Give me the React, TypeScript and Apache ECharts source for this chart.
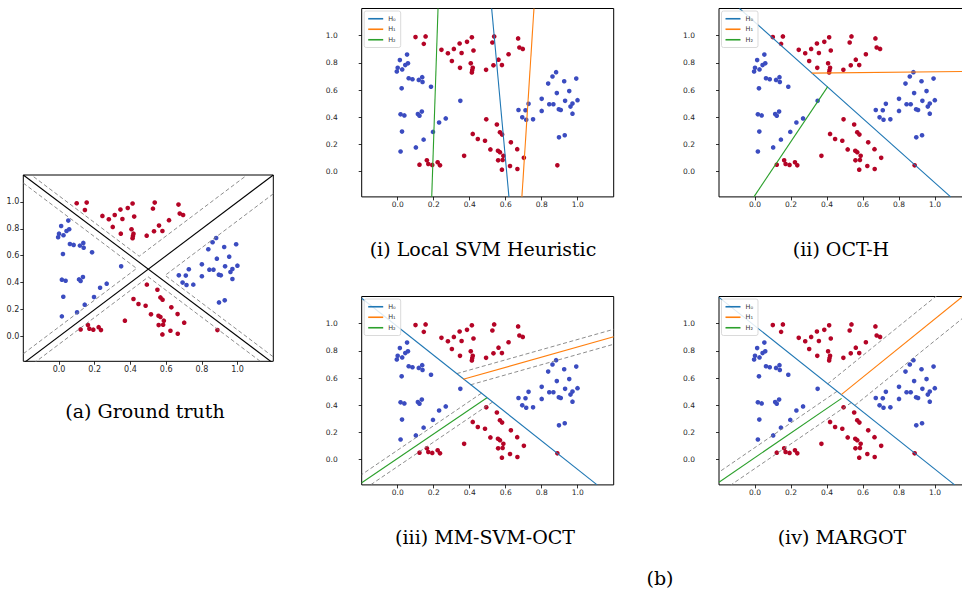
import React, { useEffect, useRef } from "react";
import * as echarts from "echarts";

// ---------------- data ----------------
const redPoints: [number, number][] = [
  [0.099, 0.990], [0.155, 0.995], [0.145, 0.940], [0.243, 0.896], [0.279, 0.871],
  [0.312, 0.903], [0.301, 0.814], [0.344, 0.943], [0.355, 0.873], [0.385, 0.955],
  [0.412, 0.988], [0.421, 0.891], [0.346, 0.764], [0.406, 0.797], [0.417, 0.764],
  [0.414, 0.747], [0.412, 0.730], [0.491, 0.749], [0.526, 0.950], [0.536, 0.995],
  [0.532, 0.782], [0.560, 0.824], [0.579, 0.784], [0.616, 0.864], [0.669, 0.980],
  [0.676, 0.913], [0.695, 0.903],
  [0.492, 0.385], [0.551, 0.347], [0.568, 0.290], [0.580, 0.273], [0.417, 0.278],
  [0.445, 0.241], [0.485, 0.228], [0.629, 0.216], [0.515, 0.164], [0.557, 0.154],
  [0.568, 0.144], [0.587, 0.117], [0.664, 0.166], [0.701, 0.102], [0.558, 0.084],
  [0.583, 0.087], [0.624, 0.042], [0.579, 0.015], [0.665, 0.020], [0.369, 0.117],
  [0.121, 0.052], [0.162, 0.084], [0.170, 0.057], [0.192, 0.050], [0.222, 0.069],
  [0.235, 0.047], [0.887, 0.047],
];

const bluePoints: [number, number][] = [
  [0.012, 0.821], [0.000, 0.764], [-0.005, 0.737], [0.025, 0.752], [0.042, 0.784],
  [0.057, 0.797], [0.052, 0.861], [0.061, 0.687], [0.082, 0.680], [0.117, 0.675],
  [0.136, 0.695], [0.138, 0.660], [0.185, 0.625], [0.022, 0.613], [0.348, 0.521],
  [0.016, 0.422], [0.037, 0.414], [0.112, 0.424], [0.134, 0.442], [0.121, 0.412],
  [0.024, 0.295], [0.196, 0.293], [0.230, 0.362], [0.267, 0.392], [0.144, 0.236],
  [0.101, 0.179], [0.016, 0.149],
  [0.671, 0.454], [0.710, 0.452], [0.727, 0.499], [0.692, 0.400], [0.714, 0.382],
  [0.752, 0.385], [0.800, 0.536], [0.800, 0.447], [0.836, 0.648], [0.860, 0.700],
  [0.880, 0.732], [0.884, 0.578], [0.842, 0.496], [0.865, 0.496], [0.895, 0.459],
  [0.906, 0.454], [0.925, 0.665], [0.953, 0.593], [0.930, 0.521], [0.960, 0.479],
  [0.971, 0.501], [0.999, 0.526], [0.992, 0.685], [0.971, 0.427], [0.896, 0.253],
  [0.928, 0.268],
];

const tickValues = [0, 0.2, 0.4, 0.6, 0.8, 1.0];
const tickLabels = ["0.0", "0.2", "0.4", "0.6", "0.8", "1.0"];
const xRange = [-0.2, 1.2];
const yRange = [-0.185, 1.2];

const captions = [
  "(a) Ground truth",
  "(i) Local SVM Heuristic",
  "(ii) OCT-H",
  "(iii) MM-SVM-OCT",
  "(iv) MARGOT",
];
const figureLabel = "(b)";

const hyperplaneNames = ["H₀", "H₁", "H₂"];
const hyperplaneColors = ["#1f77b4", "#ff7f0e", "#2ca02c"];

// Ground truth: solid separating lines and dashed margin boundaries
const gtSolid: [number, number][][] = [
  [[-0.2, -0.2], [1.2, 1.2]],
  [[-0.2, 1.2], [1.2, -0.2]],
];
const gtDashed: [number, number][][] = [
  [[-0.2, 1.245], [0.449, 0.596], [1.2, 1.347]],
  [[-0.2, 1.14], [0.4345, 0.5055], [-0.2, -0.129]],
  [[-0.2, -0.258], [0.5, 0.442], [1.2, -0.258]],
  [[1.2, 1.06], [0.594, 0.454], [1.2, -0.152]],
];

// (i) Local SVM heuristic: H0, H1, H2
const localSvmLines: [number, number][][] = [
  [[0.522, 1.2], [0.618, -0.185]],
  [[0.757, 1.2], [0.690, -0.185]],
  [[0.224, 1.2], [0.189, -0.185]],
];

// (ii) OCT-H
const octhLines: [number, number][][] = [
  [[-0.086, 1.2], [1.087, -0.185]],
  [[0.315, 0.725], [1.2, 0.738]],
  [[0.404, 0.626], [-0.006, -0.185]],
];

// (iii) MM-SVM-OCT
const mmsvmLines: [number, number][][] = [
  [[-0.2, 1.187], [1.108, -0.185]],
  [[0.364, 0.591], [1.2, 0.904]],
  [[0.496, 0.456], [-0.2, -0.169]],
];
const mmsvmMargins: [number, number][][] = [
  [[0.328, 0.633], [1.2, 0.959]],
  [[0.405, 0.551], [1.2, 0.849]],
  [[0.465, 0.489], [-0.2, -0.109]],
  [[0.527, 0.424], [-0.2, -0.229]],
];

// (iv) MARGOT
const margotLines: [number, number][][] = [
  [[-0.2, 1.194], [1.109, -0.185]],
  [[0.481, 0.481], [1.2, 1.25]],
  [[0.481, 0.451], [-0.2, -0.165]],
];
const margotMargins: [number, number][][] = [
  [[0.404, 0.558], [1.2, 1.41]],
  [[0.554, 0.399], [1.2, 1.09]],
  [[0.456, 0.503], [-0.2, -0.091]],
  [[0.535, 0.42], [-0.2, -0.245]],
];

// ---------------- layout ----------------
const grids = [
  { left: 23.3, top: 175, width: 250, height: 186.3 },
  { left: 361.7, top: 8.5, width: 252, height: 188.4 },
  { left: 719, top: 8.5, width: 252, height: 188.4 },
  { left: 361.7, top: 296.5, width: 252, height: 188.4 },
  { left: 719, top: 296.5, width: 252, height: 188.4 },
];
const captionPos = [
  [145, 411],
  [483, 249],
  [841, 249],
  [485, 537],
  [842, 537],
];

const RED = "#b40426";
const BLUE = "#3b4cc0";
const DASH = "#808080";

function labelFmt(v: number) {
  const i = tickValues.findIndex((t) => Math.abs(t - v) < 1e-6);
  return i >= 0 ? tickLabels[i] : "";
}

export default function App() {
  const ref = useRef<HTMLDivElement>(null);

  useEffect(() => {
    if (!ref.current) return;
    const chart = echarts.init(ref.current, undefined, { renderer: "svg" });

    const xAxis: any[] = [];
    const yAxis: any[] = [];
    const series: any[] = [];
    const legends: any[] = [];

    grids.forEach((g, i) => {
      const fs = i === 0 ? 8 : 7.5;
      const labelBase = {
        formatter: labelFmt,
        fontSize: fs,
        fontFamily: "DejaVu Sans",
        color: "#262626",
        margin: 4,
      };
      xAxis.push({
        type: "value",
        gridIndex: i,
        position: "bottom",
        min: xRange[0],
        max: xRange[1],
        interval: 0.2,
        axisLine: { show: false, onZero: false },
        splitLine: { show: false },
        axisTick: { show: true, length: 3.5, lineStyle: { color: "#000", width: 0.8 }, customValues: tickValues },
        axisLabel: { ...labelBase, customValues: tickValues },
      });
      const yLabel: any =
        i === 0
          ? { ...labelBase, inside: true, margin: -16.7, customValues: tickValues }
          : { ...labelBase, margin: 24, customValues: tickValues };
      yAxis.push({
        type: "value",
        gridIndex: i,
        position: "left",
        min: yRange[0],
        max: yRange[1],
        axisLine: { show: false, onZero: false },
        splitLine: { show: false },
        axisTick: { show: true, inside: false, length: 3, lineStyle: { color: "#000", width: 0.8 }, customValues: tickValues },
        axisLabel: yLabel,
      });
      series.push({
        type: "scatter",
        name: "class +1",
        xAxisIndex: i,
        yAxisIndex: i,
        data: redPoints,
        symbolSize: 4.6,
        itemStyle: { color: RED, opacity: 1 },
        z: 2,
      });
      series.push({
        type: "scatter",
        name: "class -1",
        xAxisIndex: i,
        yAxisIndex: i,
        data: bluePoints,
        symbolSize: 4.6,
        itemStyle: { color: BLUE, opacity: 1 },
        z: 2,
      });
    });

    const lineSeries = (name: string, i: number, data: [number, number][], color: string, width: number, dashed = false) => ({
      type: "line",
      name,
      xAxisIndex: i,
      yAxisIndex: i,
      data,
      showSymbol: false,
      symbol: "none",
      clip: true,
      silent: true,
      lineStyle: { color, width, type: dashed ? [4, 2.5] : "solid" },
      itemStyle: { color },
      z: 3,
    });

    gtSolid.forEach((d) => series.push(lineSeries("boundary", 0, d, "#000", 1.1)));
    gtDashed.forEach((d) => series.push(lineSeries("margin", 0, d, DASH, 0.9, true)));

    const panelLines = [localSvmLines, octhLines, mmsvmLines, margotLines];
    const panelMargins: [number, number][][][] = [[], [], mmsvmMargins, margotMargins];
    panelLines.forEach((lines, p) => {
      const gi = p + 1;
      panelMargins[p].forEach((d) => series.push(lineSeries("margin", gi, d, DASH, 0.9, true)));
      lines.forEach((d, k) => series.push(lineSeries(hyperplaneNames[k], gi, d, hyperplaneColors[k], 1.1)));
      legends.push({
        orient: "vertical",
        left: grids[gi].left + 2.5,
        top: grids[gi].top + 2.5,
        data: hyperplaneNames.map((n, k) => ({
          name: n,
          icon: "rect",
          itemStyle: { color: hyperplaneColors[k], opacity: 1 },
        })),
        itemWidth: 15,
        itemHeight: 1.6,
        itemGap: 3,
        padding: [4, 5, 4, 4],
        borderColor: "#d0d0d0",
        borderWidth: 0.8,
        borderRadius: 2,
        backgroundColor: "rgba(255,255,255,0.85)",
        selectedMode: false,
        textStyle: { fontSize: 6.5, fontFamily: "DejaVu Sans", color: "#333", lineHeight: 7.5 },
      });
    });

    const textStyle = (t: string) => ({
      text: t,
      fontSize: 19,
      fontFamily: "DejaVu Serif",
      fill: "#000",
      align: "center",
      verticalAlign: "middle",
      textAlign: "center",
      textVerticalAlign: "middle",
    });
    const graphic: any[] = captions.map((t, i) => ({
      type: "text",
      x: captionPos[i][0],
      y: captionPos[i][1],
      silent: true,
      style: textStyle(t),
    }));
    graphic.push({ type: "text", x: 660, y: 578, silent: true, style: textStyle(figureLabel) });

    chart.setOption({
      animation: false,
      backgroundColor: "#fff",
      grid: grids.map((g) => ({
        ...g,
        show: true,
        borderColor: "#000",
        borderWidth: 1,
        backgroundColor: "transparent",
        containLabel: false,
        outerBoundsMode: "none",
      })),
      xAxis,
      yAxis,
      legend: legends,
      series,
      graphic,
    });

    return () => chart.dispose();
  }, []);

  return (
    <div style={{ position: "fixed", left: 0, top: 0, width: 962, height: 589, overflow: "hidden", background: "#fff" }}>
      <div ref={ref} style={{ width: 990, height: 589 }} />
    </div>
  );
}
